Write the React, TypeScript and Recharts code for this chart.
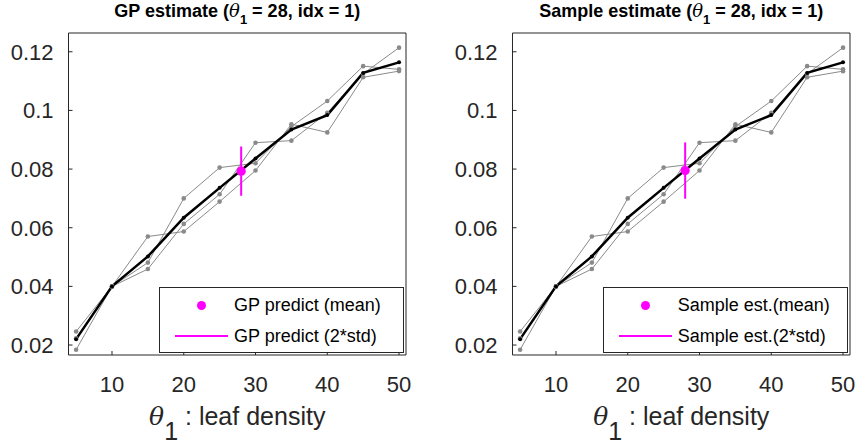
import { ComposedChart, Line, Scatter, ErrorBar, XAxis, YAxis } from 'recharts';

// leaf density values (theta_1)
const thetaValues = [5, 10, 15, 20, 25, 30, 35, 40, 45, 50];
// mean of the samples (black)
const meanCurve = [0.022, 0.04, 0.0502, 0.0634, 0.0736, 0.0836, 0.0935, 0.0984, 0.1128, 0.1164];
// individual samples (gray)
const sampleA = [0.0246, 0.04, 0.057, 0.0587, 0.0689, 0.0795, 0.0953, 0.0925, 0.1113, 0.1134];
const sampleB = [0.0184, 0.04, 0.0481, 0.07, 0.0805, 0.082, 0.0945, 0.1032, 0.1151, 0.114];
const sampleC = [0.0223, 0.04, 0.0459, 0.0613, 0.0714, 0.089, 0.0897, 0.0992, 0.1125, 0.1214];

const xTicks = [10, 20, 30, 40, 50];
const yTicks = [0.02, 0.04, 0.06, 0.08, 0.1, 0.12];

// predictions at theta_1 = 28: [mean, 2*std]
const gpPredict = [0.0793, 0.0084];
const samplePredict = [0.0795, 0.0096];
const predictTheta = 28;

const rows = thetaValues.map((x, i) => ({
  x,
  mean: meanCurve[i],
  a: sampleA[i],
  b: sampleB[i],
  c: sampleC[i],
}));

const FONT = '"Liberation Sans", Arial, Helvetica, sans-serif';
const AXIS = '#262626';
const GRAY = '#8a8a8a';
const MAGENTA = '#ff00ff';

const X_DOMAIN = [3.94, 50.97];
const Y_DOMAIN = [0.0166, 0.1264];

const PLOT_LEFT = 68.5;
const PLOT_TOP = 33;
const PLOT_W = 337.5;
const PLOT_BOTTOM = 355;

const axisLine = { stroke: AXIS, strokeWidth: 1 };
const tickLine = { stroke: AXIS, strokeWidth: 1 };

function Panel({
  left,
  titlePrefix,
  meanLabel,
  stdLabel,
  predict,
}: {
  left: number;
  titlePrefix: string;
  meanLabel: string;
  stdLabel: string;
  predict: number[];
}) {
  const width = Math.min(429, 858 - left);
  // top / right axes get 1px so that they are drawn (box on, like matlab)
  const rightMargin = width - PLOT_LEFT - PLOT_W - 1;
  const cx = PLOT_LEFT + PLOT_W / 2;
  const point = [{ x: predictTheta, y: predict[0], err: predict[1] }];

  return (
    <div style={{ position: 'absolute', left, top: 0, width, height: 444 }}>
      <ComposedChart
        width={width}
        height={444}
        data={rows}
        margin={{ top: PLOT_TOP - 1, right: rightMargin, bottom: 0, left: 0 }}
        style={{ fontFamily: FONT }}
      >
        <XAxis
          dataKey="x"
          type="number"
          domain={X_DOMAIN}
          allowDataOverflow
          ticks={xTicks}
          height={444 - PLOT_BOTTOM}
          tickSize={-4}
          tickMargin={25}
          axisLine={axisLine}
          tickLine={tickLine}
          tick={{ fill: AXIS, fontSize: 22 }}
        />
        <XAxis
          xAxisId="top"
          dataKey="x"
          type="number"
          orientation="top"
          domain={X_DOMAIN}
          allowDataOverflow
          ticks={xTicks}
          height={1}
          tickSize={-4}
          tick={false}
          axisLine={axisLine}
          tickLine={tickLine}
        />
        <YAxis
          dataKey="y"
          type="number"
          domain={Y_DOMAIN}
          allowDataOverflow
          ticks={yTicks}
          width={PLOT_LEFT}
          tickSize={-4}
          tickMargin={19}
          axisLine={axisLine}
          tickLine={tickLine}
          tick={{ fill: AXIS, fontSize: 22 }}
          tickFormatter={(v: number) => String(+v.toFixed(2))}
        />
        <YAxis
          yAxisId="right"
          dataKey="y"
          type="number"
          orientation="right"
          domain={Y_DOMAIN}
          allowDataOverflow
          ticks={yTicks}
          width={1}
          tickSize={-4}
          tick={false}
          axisLine={axisLine}
          tickLine={tickLine}
        />
        <Line dataKey="a" stroke={GRAY} strokeWidth={1} dot={{ r: 2.3, fill: GRAY, stroke: 'none' }} isAnimationActive={false} />
        <Line dataKey="b" stroke={GRAY} strokeWidth={1} dot={{ r: 2.3, fill: GRAY, stroke: 'none' }} isAnimationActive={false} />
        <Line dataKey="c" stroke={GRAY} strokeWidth={1} dot={{ r: 2.3, fill: GRAY, stroke: 'none' }} isAnimationActive={false} />
        <Line dataKey="mean" stroke="#000" strokeWidth={2.5} dot={{ r: 2, fill: '#000', stroke: 'none' }} isAnimationActive={false} />
        <Scatter data={point} dataKey="y" fill={MAGENTA} shape={(p: any) => <circle cx={p.cx} cy={p.cy} r={4.6} fill={MAGENTA} />} isAnimationActive={false}>
          <ErrorBar dataKey="err" direction="y" width={0} stroke={MAGENTA} strokeWidth={2} />
        </Scatter>
        <text x={cx} y={17} textAnchor="middle" fontSize={18} fontWeight="bold" fill="#000" fontFamily={FONT}>
          {titlePrefix}
          <tspan fontStyle="italic" fontFamily="DejaVu Serif" fontWeight="normal">θ</tspan>
          <tspan dy={7} fontSize={13}>1</tspan>
          <tspan dy={-7}> = 28, idx = 1)</tspan>
        </text>
        <text x={cx} y={425} textAnchor="middle" fontSize={25} fill={AXIS} fontFamily={FONT}>
          <tspan fontStyle="italic" fontFamily="DejaVu Serif">θ</tspan>
          <tspan dy={15}>1</tspan>
          <tspan dy={-15}> : leaf density</tspan>
        </text>
      </ComposedChart>
      <div
        style={{
          position: 'absolute',
          left: PLOT_LEFT + 90.5,
          top: 287,
          width: 245,
          height: 66,
          border: `1px solid ${AXIS}`,
          background: '#fff',
          fontFamily: FONT,
          fontSize: 18,
          color: '#000',
          boxSizing: 'border-box',
        }}
      >
        <div style={{ position: 'absolute', left: 37, top: 13, width: 9, height: 9, borderRadius: '50%', background: MAGENTA }} />
        <div style={{ position: 'absolute', left: 74, top: 6, whiteSpace: 'nowrap', lineHeight: '22px' }}>{meanLabel}</div>
        <div style={{ position: 'absolute', left: 15, top: 47, width: 53, height: 2, background: MAGENTA }} />
        <div style={{ position: 'absolute', left: 74, top: 37, whiteSpace: 'nowrap', lineHeight: '22px' }}>{stdLabel}</div>
      </div>
    </div>
  );
}

export default function App() {
  return (
    <div style={{ position: 'absolute', left: 0, top: 0, width: 858, height: 444, background: '#fff', overflow: 'hidden' }}>
      <Panel left={0} titlePrefix="GP estimate (" meanLabel="GP predict (mean)" stdLabel="GP predict (2*std)" predict={gpPredict} />
      <Panel left={443.8} titlePrefix="Sample estimate (" meanLabel="Sample est.(mean)" stdLabel="Sample est.(2*std)" predict={samplePredict} />
    </div>
  );
}
